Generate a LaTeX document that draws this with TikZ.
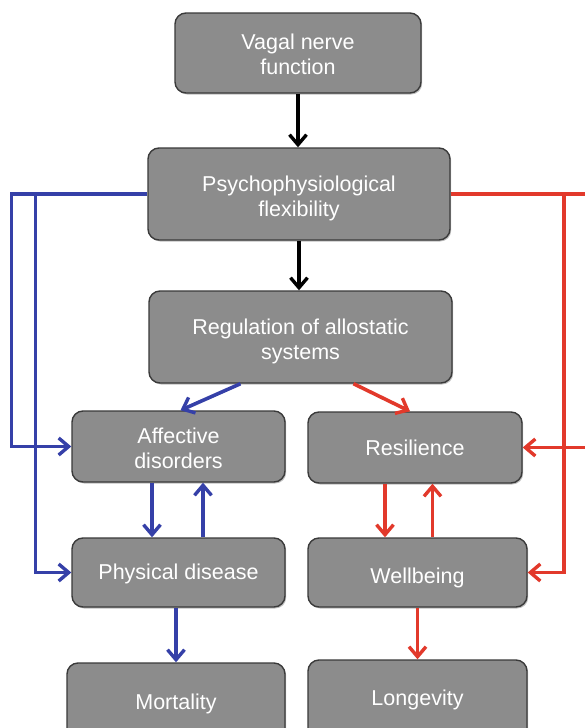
\documentclass[tikz,border=0pt]{standalone}
\usepackage{fontspec}
\setmainfont{Liberation Sans}
\usetikzlibrary{arrows.meta,shadows}
\definecolor{boxfill}{HTML}{8C8C8C}
\definecolor{boxline}{HTML}{3A3A3A}
\definecolor{negblue}{HTML}{3540A8}
\definecolor{posred}{HTML}{E2392B}
% box label, set a little below the middle of its box
\newcommand\boxtext[2][4pt]{\raisebox{-#1}[\height][\depth]{\begin{tabular}{@{}c@{}}#2\end{tabular}}}
\tikzset{
  box/.style={draw=boxline, line width=1.4pt, fill=boxfill, rounded corners=11pt,
    text=white, align=center, inner sep=0pt,
    font=\fontsize{21.5}{25}\selectfont,
    drop shadow={shadow xshift=1.2pt, shadow yshift=-1.5pt, opacity=0.25, fill=black}},
  link/.style={line width=3.6pt, -{Straight Barb[length=10pt,width=17pt,line width=3.4pt]}},
  blklink/.style={link, draw=black},
  neglink/.style={link, draw=negblue},
  poslink/.style={link, draw=posred},
}
\begin{document}
\begin{tikzpicture}[x=1pt,y=-1pt]
  \useasboundingbox (0,0) rectangle (585,728);
  \clip (0,0) rectangle (585,728);
  \fill[white] (0,0) rectangle (585,728);

  % boxes
  \node[box, minimum width=246, minimum height=80] (vagal) at (298,53) {\boxtext{Vagal nerve\\function}};
  \node[box, minimum width=302, minimum height=92] (psych) at (299,194) {\boxtext[5pt]{Psychophysiological\\flexibility}};
  \node[box, minimum width=303, minimum height=92] (reg) at (300.5,337) {\boxtext[5pt]{Regulation of allostatic\\systems}};
  \node[box, minimum width=213, minimum height=71] (aff) at (178.5,446.5) {\boxtext{Affective\\disorders}};
  \node[box, minimum width=214, minimum height=71] (res) at (415,447.5) {\boxtext[3pt]{Resilience}};
  \node[box, minimum width=213, minimum height=69] (phys) at (178.5,572.5) {\boxtext[2pt]{Physical disease}};
  \node[box, minimum width=219, minimum height=69] (well) at (417.5,572.5) {\boxtext[6pt]{Wellbeing}};
  \node[box, minimum width=218, minimum height=79] (mort) at (176,702.5) {\boxtext[2pt]{Mortality}};
  \node[box, minimum width=219, minimum height=80] (longv) at (417.5,700) {\boxtext[0pt]{Longevity}};

  % main chain
  \draw[blklink] (vagal.south) -- (vagal.south |- psych.north);
  \draw[blklink] (psych.south) -- (psych.south |- reg.north);

  % regulation splits into the two pathways
  \draw[neglink] ([xshift=-60]reg.south) -- ([xshift=2]aff.north);
  \draw[poslink] ([xshift=53]reg.south) -- ([xshift=-5]res.north);

  % negative pathway
  \draw[neglink] ([xshift=-26.5]aff.south) -- ([xshift=-26.5]aff.south |- phys.north);
  \draw[neglink] ([xshift=24.5]phys.north) -- ([xshift=24.5]phys.north |- aff.south);
  \draw[neglink] ([xshift=-2.5]phys.south) -- ([xshift=-2.5]phys.south |- mort.north);

  % positive pathway
  \draw[poslink] ([xshift=-30]res.south) -- ([xshift=-30]res.south |- well.north);
  \draw[poslink] ([xshift=15]well.north) -- ([xshift=15]well.north |- res.south);
  \draw[poslink] (well.south) -- (well.south |- longv.north);

  % feedback from flexibility, left side
  \draw[neglink] (psych.west) -- ++(-136,0) |- (aff.west);
  \draw[neglink] ([xshift=-112]psych.west) |- (phys.west);

  % feedback from flexibility, right side
  \draw[poslink] (psych.east) -- ++(150,0) |- (res.east);
  \draw[poslink] ([xshift=113]psych.east) |- (well.east);
\end{tikzpicture}
\end{document}
